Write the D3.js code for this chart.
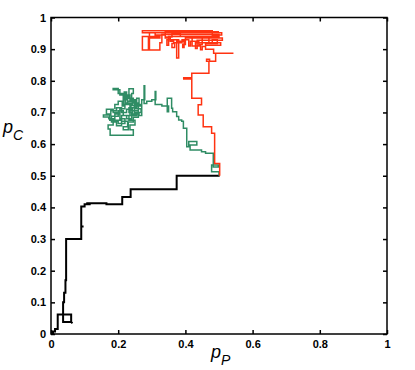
<!DOCTYPE html>
<html>
<head>
<meta charset="utf-8">
<script src="https://cdn.jsdelivr.net/npm/d3@7"></script>
<style>
  body { margin: 0; background: #fff; }
  .tick text { font-family: "Liberation Sans", Arial, sans-serif; font-weight: bold; font-size: 11px; }
  .lbl { font-family: "Liberation Sans", Arial, sans-serif; font-style: italic; }
</style>
</head>
<body>
<svg id="chart"></svg>
<script>
const xTicks = [0, 0.2, 0.4, 0.6, 0.8, 1];
const yTicks = [0, 0.1, 0.2, 0.3, 0.4, 0.5, 0.6, 0.7, 0.8, 0.9, 1];

// black walk, from origin to (0.5, 0.5)
const blackPath = [
  [0, 0], [0.006, 0], [0.006, 0.008], [0.012, 0.008], [0.012, 0.016], [0.02, 0.016],
  [0.02, 0.062], [0.06, 0.062], [0.06, 0.038], [0.064, 0.034], [0.06, 0.038],
  [0.036, 0.038], [0.036, 0.1], [0.039, 0.1], [0.039, 0.13], [0.043, 0.13],
  [0.043, 0.17], [0.045, 0.17], [0.045, 0.3], [0.09, 0.3], [0.09, 0.34], [0.097, 0.34],
  [0.09, 0.34], [0.09, 0.403], [0.1, 0.403], [0.1, 0.41], [0.118, 0.41], [0.105, 0.413],
  [0.165, 0.413], [0.165, 0.41], [0.212, 0.41], [0.212, 0.433], [0.237, 0.433],
  [0.237, 0.457], [0.374, 0.457], [0.374, 0.5], [0.502, 0.5]
];

// red walk, from (0.5, 0.5) up into the top cluster
const redPath = [
  [0.502, 0.5], [0.502, 0.539], [0.487, 0.539], [0.487, 0.634], [0.478, 0.634],
  [0.478, 0.655], [0.453, 0.655], [0.453, 0.692], [0.438, 0.692], [0.438, 0.724],
  [0.448, 0.724], [0.448, 0.745], [0.419, 0.745], [0.419, 0.806], [0.395, 0.806],
  [0.395, 0.81], [0.419, 0.81], [0.419, 0.824], [0.47, 0.824], [0.47, 0.862],
  [0.463, 0.862], [0.463, 0.868], [0.472, 0.868], [0.472, 0.862], [0.49, 0.862],
  [0.49, 0.887], [0.543, 0.887], [0.484, 0.887], [0.484, 0.9], [0.46, 0.9],
  [0.46, 0.912], [0.505, 0.912], [0.505, 0.92], [0.43, 0.92], [0.43, 0.902],
  [0.435, 0.902], [0.435, 0.928], [0.51, 0.928], [0.51, 0.935], [0.4, 0.935],
  [0.4, 0.915], [0.392, 0.915], [0.392, 0.905], [0.396, 0.905], [0.396, 0.925],
  [0.374, 0.925], [0.374, 0.872], [0.38, 0.872], [0.38, 0.93], [0.345, 0.93],
  [0.345, 0.912], [0.35, 0.912], [0.35, 0.94], [0.5, 0.94], [0.5, 0.946],
  [0.33, 0.946], [0.33, 0.92], [0.324, 0.92], [0.324, 0.897], [0.272, 0.897],
  [0.272, 0.94], [0.324, 0.94], [0.324, 0.935], [0.29, 0.935], [0.29, 0.9],
  [0.293, 0.9], [0.293, 0.952], [0.508, 0.952], [0.508, 0.945], [0.48, 0.945],
  [0.48, 0.958], [0.272, 0.958], [0.272, 0.952], [0.31, 0.952],
  [0.31, 0.945], [0.34, 0.945], [0.34, 0.935], [0.355, 0.935], [0.355, 0.925],
  [0.365, 0.925], [0.365, 0.918], [0.36, 0.918], [0.36, 0.905], [0.368, 0.905],
  [0.368, 0.92], [0.39, 0.92], [0.39, 0.93], [0.41, 0.93], [0.41, 0.91],
  [0.415, 0.91], [0.415, 0.925], [0.44, 0.925], [0.44, 0.915], [0.45, 0.915],
  [0.45, 0.94], [0.47, 0.94], [0.47, 0.92], [0.48, 0.92], [0.48, 0.93],
  [0.495, 0.93], [0.495, 0.918], [0.46, 0.918], [0.46, 0.908], [0.45, 0.908],
  [0.45, 0.898], [0.445, 0.898], [0.445, 0.91], [0.42, 0.91], [0.42, 0.94],
  [0.385, 0.94], [0.385, 0.948], [0.36, 0.948], [0.36, 0.938], [0.34, 0.938],
  [0.34, 0.955], [0.5, 0.955]
];

// green walk, from (0.5, 0.5) up-left into the middle cluster
const greenPath = [
  [0.5, 0.5], [0.5, 0.513], [0.478, 0.513], [0.478, 0.534], [0.498, 0.534],
  [0.498, 0.528], [0.483, 0.528], [0.483, 0.571], [0.46, 0.571], [0.46, 0.576],
  [0.448, 0.576], [0.448, 0.581], [0.414, 0.581], [0.414, 0.597], [0.434, 0.597],
  [0.434, 0.608], [0.41, 0.608], [0.41, 0.592], [0.404, 0.592], [0.404, 0.65],
  [0.394, 0.65], [0.394, 0.672], [0.389, 0.672], [0.389, 0.676], [0.38, 0.676],
  [0.38, 0.687], [0.374, 0.687], [0.374, 0.702], [0.362, 0.702], [0.362, 0.713],
  [0.359, 0.713], [0.359, 0.745], [0.346, 0.745], [0.346, 0.702], [0.35, 0.702],
  [0.35, 0.72], [0.33, 0.72], [0.33, 0.725], [0.31, 0.725], [0.31, 0.766],
  [0.312, 0.766], [0.312, 0.74], [0.3, 0.74], [0.3, 0.735], [0.285, 0.735],
  [0.285, 0.728], [0.277, 0.728], [0.277, 0.784], [0.279, 0.784], [0.279, 0.74],
  [0.27, 0.74], [0.27, 0.725], [0.262, 0.725], [0.262, 0.745], [0.255, 0.745],
  [0.255, 0.715], [0.248, 0.715], [0.248, 0.735], [0.24, 0.735], [0.24, 0.76],
  [0.245, 0.76], [0.245, 0.775], [0.232, 0.775], [0.232, 0.75], [0.225, 0.75],
  [0.225, 0.765], [0.218, 0.765], [0.218, 0.74], [0.228, 0.74], [0.228, 0.725],
  [0.215, 0.725], [0.215, 0.755], [0.205, 0.755], [0.205, 0.772], [0.185, 0.772],
  [0.185, 0.776], [0.2, 0.776], [0.2, 0.76], [0.222, 0.76], [0.222, 0.73],
  [0.238, 0.73], [0.238, 0.705], [0.26, 0.705], [0.26, 0.695], [0.242, 0.695],
  [0.242, 0.71], [0.225, 0.71], [0.225, 0.7], [0.21, 0.7], [0.21, 0.715],
  [0.195, 0.715], [0.195, 0.705], [0.178, 0.705], [0.178, 0.692], [0.156, 0.692],
  [0.156, 0.686], [0.172, 0.686], [0.172, 0.68], [0.19, 0.68], [0.19, 0.695],
  [0.205, 0.695], [0.205, 0.68], [0.22, 0.68], [0.22, 0.665], [0.2, 0.665],
  [0.2, 0.672], [0.185, 0.672], [0.185, 0.66], [0.17, 0.66], [0.17, 0.648],
  [0.176, 0.648], [0.176, 0.628], [0.245, 0.628], [0.245, 0.645], [0.235, 0.645],
  [0.235, 0.66], [0.25, 0.66], [0.25, 0.675], [0.232, 0.675], [0.232, 0.69],
  [0.255, 0.69], [0.255, 0.7], [0.268, 0.7], [0.268, 0.712], [0.25, 0.712],
  [0.25, 0.722], [0.235, 0.722], [0.235, 0.69], [0.215, 0.69], [0.215, 0.705],
  [0.2, 0.705], [0.2, 0.688], [0.18, 0.688], [0.18, 0.67], [0.195, 0.67],
  [0.195, 0.658], [0.21, 0.658], [0.21, 0.672], [0.228, 0.672], [0.228, 0.655],
  [0.215, 0.655], [0.215, 0.645], [0.23, 0.645],
  [0.23, 0.67], [0.245, 0.67], [0.245, 0.685], [0.26, 0.685], [0.26, 0.72],
  [0.252, 0.72], [0.252, 0.74], [0.235, 0.74], [0.235, 0.755], [0.228, 0.755],
  [0.228, 0.735], [0.242, 0.735], [0.242, 0.725], [0.22, 0.725], [0.22, 0.712],
  [0.205, 0.712], [0.205, 0.7], [0.185, 0.7], [0.185, 0.71], [0.165, 0.71],
  [0.165, 0.695], [0.175, 0.695], [0.175, 0.675], [0.21, 0.675], [0.21, 0.69],
  [0.225, 0.69], [0.225, 0.68], [0.24, 0.68], [0.24, 0.7], [0.232, 0.7],
  [0.232, 0.715], [0.248, 0.715], [0.248, 0.7], [0.262, 0.7], [0.262, 0.69],
  [0.27, 0.69], [0.27, 0.72], [0.258, 0.72], [0.258, 0.73], [0.245, 0.73],
  [0.245, 0.745], [0.22, 0.745], [0.22, 0.72], [0.212, 0.72], [0.212, 0.735],
  [0.2, 0.735], [0.2, 0.725], [0.19, 0.725], [0.19, 0.71]
];

const W = 415, H = 370;
const margin = { top: 17.5, right: 28, bottom: 36, left: 51 };
const width = W - margin.left - margin.right,
      height = H - margin.top - margin.bottom;

const svg = d3.select("#chart").attr("width", W).attr("height", H);
const g = svg.append("g").attr("transform", `translate(${margin.left},${margin.top})`);

const x = d3.scaleLinear().domain([0, 1]).range([0, width]);
const y = d3.scaleLinear().domain([0, 1]).range([height, 0]);

const line = d3.line().x(d => x(d[0])).y(d => y(d[1]));

g.append("path").datum(blackPath)
  .attr("d", line).attr("fill", "none").attr("stroke", "#000")
  .attr("stroke-width", 2);
g.append("path").datum(greenPath)
  .attr("d", line).attr("fill", "none").attr("stroke", "#2f8c64")
  .attr("stroke-width", 1.5);
g.append("path").datum(redPath)
  .attr("d", line).attr("fill", "none").attr("stroke", "#ff3311")
  .attr("stroke-width", 1.5);

// matlab style: ticks inside on all four sides
g.append("g").attr("transform", `translate(0,${height})`)
  .call(d3.axisBottom(x).tickValues(xTicks).tickFormat(String).tickSize(-4).tickPadding(6));
g.append("g")
  .call(d3.axisLeft(y).tickValues(yTicks).tickFormat(String).tickSize(-4).tickPadding(5));
g.append("g")
  .call(d3.axisTop(x).tickValues(xTicks).tickFormat("").tickSize(-4));
g.append("g").attr("transform", `translate(${width},0)`)
  .call(d3.axisRight(y).tickValues(yTicks).tickFormat("").tickSize(-4));
g.selectAll(".domain").remove();
g.selectAll(".tick line").attr("stroke", "#000").attr("stroke-width", 1.5);
g.selectAll(".tick text").attr("fill", "#000");

g.append("rect")
  .attr("width", width).attr("height", height)
  .attr("fill", "none").attr("stroke", "#000").attr("stroke-width", 1.5);

// axis labels
const yl = svg.append("text").attr("class", "lbl").attr("x", 3).attr("y", 133)
  .style("font-size", "18px");
yl.append("tspan").text("p");
yl.append("tspan").attr("dy", 7).style("font-size", "14px").text("C");

const xl = svg.append("text").attr("class", "lbl").attr("x", 211).attr("y", 358)
  .style("font-size", "18px");
xl.append("tspan").text("p");
xl.append("tspan").attr("dy", 7).style("font-size", "14px").text("P");
</script>
</body>
</html>
